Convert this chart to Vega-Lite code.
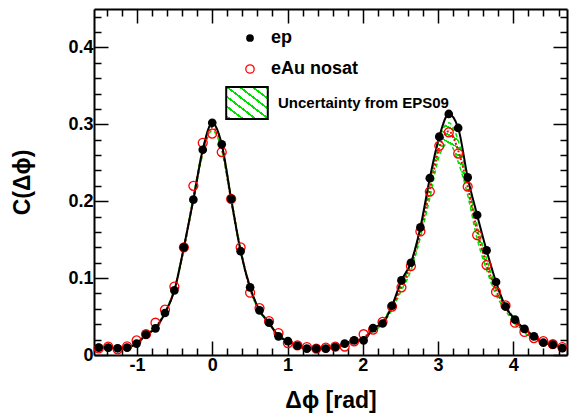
{
"$schema": "https://vega.github.io/schema/vega-lite/v6.json",
"width": 473, "height": 346,
"autosize": "none",
"padding": {"left": 94, "top": 9, "right": 2, "bottom": 59},
"background": "white",
"config": {
  "view": {"stroke": null},
  "font": "Liberation Sans",
  "axis": {"domainColor": "black", "domainWidth": 2, "tickColor": "black", "tickWidth": 1.5, "labelColor": "black", "titleColor": "black", "labelFont": "Liberation Sans", "titleFont": "Liberation Sans", "labelFontWeight": "bold", "titleFontWeight": "bold", "labelFontSize": 18, "titleFontSize": 23, "grid": false, "labelOverlap": false, "labelFlush": false},
  "legend": {"labelFont": "Liberation Sans", "labelFontWeight": "bold", "labelColor": "black", "labelLimit": 400, "padding": 0, "orient": "none", "title": null}
},
"data": {"values": [
{"x": -1.508, "ep": 0.0096, "eau": 0.0085, "rfit": 0.0096, "lo": 0.0094, "hi": 0.0098},
{"x": -1.382, "ep": 0.0096, "eau": 0.011, "rfit": 0.0094, "lo": 0.0092, "hi": 0.0096},
{"x": -1.257, "ep": 0.0087, "eau": 0.0074, "rfit": 0.0090, "lo": 0.0088, "hi": 0.0092},
{"x": -1.131, "ep": 0.0096, "eau": 0.0113, "rfit": 0.0100, "lo": 0.0098, "hi": 0.0102},
{"x": -1.005, "ep": 0.0148, "eau": 0.019, "rfit": 0.0150, "lo": 0.0147, "hi": 0.0153},
{"x": -0.880, "ep": 0.0265, "eau": 0.027, "rfit": 0.0255, "lo": 0.025, "hi": 0.026},
{"x": -0.754, "ep": 0.0347, "eau": 0.042, "rfit": 0.0360, "lo": 0.0354, "hi": 0.0366},
{"x": -0.628, "ep": 0.0546, "eau": 0.059, "rfit": 0.0550, "lo": 0.054, "hi": 0.056},
{"x": -0.503, "ep": 0.084, "eau": 0.089, "rfit": 0.085, "lo": 0.0835, "hi": 0.0865},
{"x": -0.377, "ep": 0.140, "eau": 0.140, "rfit": 0.139, "lo": 0.137, "hi": 0.141},
{"x": -0.251, "ep": 0.202, "eau": 0.220, "rfit": 0.203, "lo": 0.200, "hi": 0.206},
{"x": -0.126, "ep": 0.267, "eau": 0.276, "rfit": 0.265, "lo": 0.261, "hi": 0.269},
{"x": 0.000, "ep": 0.302, "eau": 0.288, "rfit": 0.296, "lo": 0.292, "hi": 0.300},
{"x": 0.126, "ep": 0.274, "eau": 0.264, "rfit": 0.270, "lo": 0.266, "hi": 0.274},
{"x": 0.251, "ep": 0.203, "eau": 0.203, "rfit": 0.202, "lo": 0.199, "hi": 0.205},
{"x": 0.377, "ep": 0.135, "eau": 0.140, "rfit": 0.136, "lo": 0.134, "hi": 0.138},
{"x": 0.503, "ep": 0.088, "eau": 0.081, "rfit": 0.086, "lo": 0.0847, "hi": 0.0873},
{"x": 0.628, "ep": 0.058, "eau": 0.061, "rfit": 0.058, "lo": 0.057, "hi": 0.059},
{"x": 0.754, "ep": 0.042, "eau": 0.044, "rfit": 0.041, "lo": 0.0404, "hi": 0.0416},
{"x": 0.880, "ep": 0.0243, "eau": 0.0286, "rfit": 0.026, "lo": 0.0256, "hi": 0.0264},
{"x": 1.005, "ep": 0.018, "eau": 0.0156, "rfit": 0.0175, "lo": 0.0172, "hi": 0.0178},
{"x": 1.131, "ep": 0.012, "eau": 0.0125, "rfit": 0.0125, "lo": 0.0123, "hi": 0.0127},
{"x": 1.257, "ep": 0.0083, "eau": 0.0104, "rfit": 0.0095, "lo": 0.0093, "hi": 0.0097},
{"x": 1.382, "ep": 0.0083, "eau": 0.0083, "rfit": 0.0085, "lo": 0.0083, "hi": 0.0087},
{"x": 1.508, "ep": 0.0083, "eau": 0.0096, "rfit": 0.0088, "lo": 0.0086, "hi": 0.009},
{"x": 1.634, "ep": 0.0104, "eau": 0.011, "rfit": 0.0105, "lo": 0.0103, "hi": 0.0107},
{"x": 1.759, "ep": 0.0148, "eau": 0.011, "rfit": 0.013, "lo": 0.0128, "hi": 0.0132},
{"x": 1.885, "ep": 0.019, "eau": 0.0178, "rfit": 0.0175, "lo": 0.0172, "hi": 0.0178},
{"x": 2.011, "ep": 0.019, "eau": 0.027, "rfit": 0.023, "lo": 0.0226, "hi": 0.0234},
{"x": 2.136, "ep": 0.035, "eau": 0.033, "rfit": 0.032, "lo": 0.031, "hi": 0.033},
{"x": 2.262, "ep": 0.041, "eau": 0.043, "rfit": 0.042, "lo": 0.040, "hi": 0.044},
{"x": 2.388, "ep": 0.064, "eau": 0.063, "rfit": 0.062, "lo": 0.059, "hi": 0.065},
{"x": 2.513, "ep": 0.097, "eau": 0.088, "rfit": 0.089, "lo": 0.084, "hi": 0.093},
{"x": 2.639, "ep": 0.120, "eau": 0.1156, "rfit": 0.117, "lo": 0.110, "hi": 0.120},
{"x": 2.765, "ep": 0.166, "eau": 0.1607, "rfit": 0.160, "lo": 0.153, "hi": 0.166},
{"x": 2.890, "ep": 0.230, "eau": 0.2126, "rfit": 0.215, "lo": 0.204, "hi": 0.224},
{"x": 3.016, "ep": 0.284, "eau": 0.272, "rfit": 0.270, "lo": 0.259, "hi": 0.281},
{"x": 3.142, "ep": 0.3135, "eau": 0.2896, "rfit": 0.291, "lo": 0.276, "hi": 0.302},
{"x": 3.267, "ep": 0.2953, "eau": 0.262, "rfit": 0.266, "lo": 0.251, "hi": 0.279},
{"x": 3.393, "ep": 0.231, "eau": 0.219, "rfit": 0.219, "lo": 0.208, "hi": 0.228},
{"x": 3.519, "ep": 0.182, "eau": 0.156, "rfit": 0.161, "lo": 0.151, "hi": 0.169},
{"x": 3.644, "ep": 0.136, "eau": 0.117, "rfit": 0.118, "lo": 0.111, "hi": 0.125},
{"x": 3.770, "ep": 0.095, "eau": 0.082, "rfit": 0.084, "lo": 0.078, "hi": 0.089},
{"x": 3.896, "ep": 0.063, "eau": 0.0645, "rfit": 0.062, "lo": 0.058, "hi": 0.066},
{"x": 4.021, "ep": 0.046, "eau": 0.042, "rfit": 0.043, "lo": 0.040, "hi": 0.046},
{"x": 4.147, "ep": 0.034, "eau": 0.030, "rfit": 0.031, "lo": 0.029, "hi": 0.033},
{"x": 4.273, "ep": 0.0243, "eau": 0.022, "rfit": 0.022, "lo": 0.021, "hi": 0.024},
{"x": 4.398, "ep": 0.016, "eau": 0.018, "rfit": 0.017, "lo": 0.0166, "hi": 0.0174},
{"x": 4.524, "ep": 0.0135, "eau": 0.014, "rfit": 0.0135, "lo": 0.0132, "hi": 0.0138},
{"x": 4.650, "ep": 0.009, "eau": 0.0104, "rfit": 0.0095, "lo": 0.0093, "hi": 0.0097}
]},
"encoding": {
  "x": {"field": "x", "type": "quantitative", "scale": {"domain": [-1.5708, 4.7124], "nice": false, "zero": false}, "axis": null}
},
"layer": [
{
  "transform": [{"filter": "datum.x > 2.2 && datum.x < 4.35"}],
  "mark": {"type": "area", "interpolate": "monotone", "fill": {"gradient": "linear", "x1": 0, "y1": 1, "x2": 0.466, "y2": -0.206, "stops": [
{"offset":0,"color":"#00e000"},{"offset":0.0065,"color":"#00e000"},{"offset":0.0065,"color":"rgba(0,0,0,0)"},{"offset":0.025,"color":"rgba(0,0,0,0)"},
{"offset":0.025,"color":"#00e000"},{"offset":0.0315,"color":"#00e000"},{"offset":0.0315,"color":"rgba(0,0,0,0)"},{"offset":0.05,"color":"rgba(0,0,0,0)"},
{"offset":0.05,"color":"#00e000"},{"offset":0.0565,"color":"#00e000"},{"offset":0.0565,"color":"rgba(0,0,0,0)"},{"offset":0.075,"color":"rgba(0,0,0,0)"},
{"offset":0.075,"color":"#00e000"},{"offset":0.0815,"color":"#00e000"},{"offset":0.0815,"color":"rgba(0,0,0,0)"},{"offset":0.1,"color":"rgba(0,0,0,0)"},
{"offset":0.1,"color":"#00e000"},{"offset":0.1065,"color":"#00e000"},{"offset":0.1065,"color":"rgba(0,0,0,0)"},{"offset":0.125,"color":"rgba(0,0,0,0)"},
{"offset":0.125,"color":"#00e000"},{"offset":0.1315,"color":"#00e000"},{"offset":0.1315,"color":"rgba(0,0,0,0)"},{"offset":0.15,"color":"rgba(0,0,0,0)"},
{"offset":0.15,"color":"#00e000"},{"offset":0.1565,"color":"#00e000"},{"offset":0.1565,"color":"rgba(0,0,0,0)"},{"offset":0.175,"color":"rgba(0,0,0,0)"},
{"offset":0.175,"color":"#00e000"},{"offset":0.1815,"color":"#00e000"},{"offset":0.1815,"color":"rgba(0,0,0,0)"},{"offset":0.2,"color":"rgba(0,0,0,0)"},
{"offset":0.2,"color":"#00e000"},{"offset":0.2065,"color":"#00e000"},{"offset":0.2065,"color":"rgba(0,0,0,0)"},{"offset":0.225,"color":"rgba(0,0,0,0)"},
{"offset":0.225,"color":"#00e000"},{"offset":0.2315,"color":"#00e000"},{"offset":0.2315,"color":"rgba(0,0,0,0)"},{"offset":0.25,"color":"rgba(0,0,0,0)"},
{"offset":0.25,"color":"#00e000"},{"offset":0.2565,"color":"#00e000"},{"offset":0.2565,"color":"rgba(0,0,0,0)"},{"offset":0.275,"color":"rgba(0,0,0,0)"},
{"offset":0.275,"color":"#00e000"},{"offset":0.2815,"color":"#00e000"},{"offset":0.2815,"color":"rgba(0,0,0,0)"},{"offset":0.3,"color":"rgba(0,0,0,0)"},
{"offset":0.3,"color":"#00e000"},{"offset":0.3065,"color":"#00e000"},{"offset":0.3065,"color":"rgba(0,0,0,0)"},{"offset":0.325,"color":"rgba(0,0,0,0)"},
{"offset":0.325,"color":"#00e000"},{"offset":0.3315,"color":"#00e000"},{"offset":0.3315,"color":"rgba(0,0,0,0)"},{"offset":0.35,"color":"rgba(0,0,0,0)"},
{"offset":0.35,"color":"#00e000"},{"offset":0.3565,"color":"#00e000"},{"offset":0.3565,"color":"rgba(0,0,0,0)"},{"offset":0.375,"color":"rgba(0,0,0,0)"},
{"offset":0.375,"color":"#00e000"},{"offset":0.3815,"color":"#00e000"},{"offset":0.3815,"color":"rgba(0,0,0,0)"},{"offset":0.4,"color":"rgba(0,0,0,0)"},
{"offset":0.4,"color":"#00e000"},{"offset":0.4065,"color":"#00e000"},{"offset":0.4065,"color":"rgba(0,0,0,0)"},{"offset":0.425,"color":"rgba(0,0,0,0)"},
{"offset":0.425,"color":"#00e000"},{"offset":0.4315,"color":"#00e000"},{"offset":0.4315,"color":"rgba(0,0,0,0)"},{"offset":0.45,"color":"rgba(0,0,0,0)"},
{"offset":0.45,"color":"#00e000"},{"offset":0.4565,"color":"#00e000"},{"offset":0.4565,"color":"rgba(0,0,0,0)"},{"offset":0.475,"color":"rgba(0,0,0,0)"},
{"offset":0.475,"color":"#00e000"},{"offset":0.4815,"color":"#00e000"},{"offset":0.4815,"color":"rgba(0,0,0,0)"},{"offset":0.5,"color":"rgba(0,0,0,0)"},
{"offset":0.5,"color":"#00e000"},{"offset":0.5065,"color":"#00e000"},{"offset":0.5065,"color":"rgba(0,0,0,0)"},{"offset":0.525,"color":"rgba(0,0,0,0)"},
{"offset":0.525,"color":"#00e000"},{"offset":0.5315,"color":"#00e000"},{"offset":0.5315,"color":"rgba(0,0,0,0)"},{"offset":0.55,"color":"rgba(0,0,0,0)"},
{"offset":0.55,"color":"#00e000"},{"offset":0.5565,"color":"#00e000"},{"offset":0.5565,"color":"rgba(0,0,0,0)"},{"offset":0.575,"color":"rgba(0,0,0,0)"},
{"offset":0.575,"color":"#00e000"},{"offset":0.5815,"color":"#00e000"},{"offset":0.5815,"color":"rgba(0,0,0,0)"},{"offset":0.6,"color":"rgba(0,0,0,0)"},
{"offset":0.6,"color":"#00e000"},{"offset":0.6065,"color":"#00e000"},{"offset":0.6065,"color":"rgba(0,0,0,0)"},{"offset":0.625,"color":"rgba(0,0,0,0)"},
{"offset":0.625,"color":"#00e000"},{"offset":0.6315,"color":"#00e000"},{"offset":0.6315,"color":"rgba(0,0,0,0)"},{"offset":0.65,"color":"rgba(0,0,0,0)"},
{"offset":0.65,"color":"#00e000"},{"offset":0.6565,"color":"#00e000"},{"offset":0.6565,"color":"rgba(0,0,0,0)"},{"offset":0.675,"color":"rgba(0,0,0,0)"},
{"offset":0.675,"color":"#00e000"},{"offset":0.6815,"color":"#00e000"},{"offset":0.6815,"color":"rgba(0,0,0,0)"},{"offset":0.7,"color":"rgba(0,0,0,0)"},
{"offset":0.7,"color":"#00e000"},{"offset":0.7065,"color":"#00e000"},{"offset":0.7065,"color":"rgba(0,0,0,0)"},{"offset":0.725,"color":"rgba(0,0,0,0)"},
{"offset":0.725,"color":"#00e000"},{"offset":0.7315,"color":"#00e000"},{"offset":0.7315,"color":"rgba(0,0,0,0)"},{"offset":0.75,"color":"rgba(0,0,0,0)"},
{"offset":0.75,"color":"#00e000"},{"offset":0.7565,"color":"#00e000"},{"offset":0.7565,"color":"rgba(0,0,0,0)"},{"offset":0.775,"color":"rgba(0,0,0,0)"},
{"offset":0.775,"color":"#00e000"},{"offset":0.7815,"color":"#00e000"},{"offset":0.7815,"color":"rgba(0,0,0,0)"},{"offset":0.8,"color":"rgba(0,0,0,0)"},
{"offset":0.8,"color":"#00e000"},{"offset":0.8065,"color":"#00e000"},{"offset":0.8065,"color":"rgba(0,0,0,0)"},{"offset":0.825,"color":"rgba(0,0,0,0)"},
{"offset":0.825,"color":"#00e000"},{"offset":0.8315,"color":"#00e000"},{"offset":0.8315,"color":"rgba(0,0,0,0)"},{"offset":0.85,"color":"rgba(0,0,0,0)"},
{"offset":0.85,"color":"#00e000"},{"offset":0.8565,"color":"#00e000"},{"offset":0.8565,"color":"rgba(0,0,0,0)"},{"offset":0.875,"color":"rgba(0,0,0,0)"},
{"offset":0.875,"color":"#00e000"},{"offset":0.8815,"color":"#00e000"},{"offset":0.8815,"color":"rgba(0,0,0,0)"},{"offset":0.9,"color":"rgba(0,0,0,0)"},
{"offset":0.9,"color":"#00e000"},{"offset":0.9065,"color":"#00e000"},{"offset":0.9065,"color":"rgba(0,0,0,0)"},{"offset":0.925,"color":"rgba(0,0,0,0)"},
{"offset":0.925,"color":"#00e000"},{"offset":0.9315,"color":"#00e000"},{"offset":0.9315,"color":"rgba(0,0,0,0)"},{"offset":0.95,"color":"rgba(0,0,0,0)"},
{"offset":0.95,"color":"#00e000"},{"offset":0.9565,"color":"#00e000"},{"offset":0.9565,"color":"rgba(0,0,0,0)"},{"offset":0.975,"color":"rgba(0,0,0,0)"},
{"offset":0.975,"color":"#00e000"},{"offset":0.9815,"color":"#00e000"},{"offset":0.9815,"color":"rgba(0,0,0,0)"},{"offset":1,"color":"rgba(0,0,0,0)"}
]}},
  "encoding": {
    "x": {"field": "x", "type": "quantitative", "scale": {"domain": [-1.5708, 4.7124], "nice": false, "zero": false},
      "axis": {"orient": "bottom", "values": [-1.4,-1.2,-1,-0.8,-0.6,-0.4,-0.2,0,0.2,0.4,0.6,0.8,1,1.2,1.4,1.6,1.8,2,2.2,2.4,2.6,2.8,3,3.2,3.4,3.6,3.8,4,4.2,4.4,4.6],
        "title": "Δϕ [rad]", "titlePadding": 8, "labelPadding": 15,
        "labelExpr": "abs(datum.value - round(datum.value)) < 0.001 ? '' + round(datum.value) : ''",
        "tickSize": {"condition": {"test": "abs(datum.value - round(datum.value)) < 0.001", "value": -14}, "value": -7}}},
    "y": {"field": "lo", "type": "quantitative", "scale": {"domain": [0, 0.45], "nice": false, "zero": false},
      "axis": {"orient": "left", "values": [0,0.02,0.04,0.06,0.08,0.1,0.12,0.14,0.16,0.18,0.2,0.22,0.24,0.26,0.28,0.3,0.32,0.34,0.36,0.38,0.4,0.42,0.44],
        "title": "C(Δϕ)", "titlePadding": 33, "labelPadding": 15,
        "labelExpr": "abs(datum.value*10 - round(datum.value*10)) < 0.001 ? (datum.value < 0.001 ? '0' : format(datum.value, '.1f')) : ''",
        "tickSize": {"condition": {"test": "abs(datum.value*10 - round(datum.value*10)) < 0.001", "value": -14}, "value": -7}}},
    "y2": {"field": "hi"}
  }
},
{
  "mark": {"type": "line", "interpolate": "monotone", "color": "#00dd00", "strokeWidth": 1.5, "strokeDash": [4, 3]},
  "encoding": {
    "x": {"field": "x", "type": "quantitative", "scale": {"domain": [-1.5708, 4.7124], "nice": false, "zero": false},
      "axis": {"orient": "top", "values": [-1.4,-1.2,-1,-0.8,-0.6,-0.4,-0.2,0,0.2,0.4,0.6,0.8,1,1.2,1.4,1.6,1.8,2,2.2,2.4,2.6,2.8,3,3.2,3.4,3.6,3.8,4,4.2,4.4,4.6],
        "title": null, "labels": false,
        "tickSize": {"condition": {"test": "abs(datum.value - round(datum.value)) < 0.001", "value": -14}, "value": -7}}},
    "y": {"field": "lo", "type": "quantitative", "scale": {"domain": [0, 0.45], "nice": false, "zero": false},
      "axis": {"orient": "right", "values": [0,0.02,0.04,0.06,0.08,0.1,0.12,0.14,0.16,0.18,0.2,0.22,0.24,0.26,0.28,0.3,0.32,0.34,0.36,0.38,0.4,0.42,0.44],
        "title": null, "labels": false,
        "tickSize": {"condition": {"test": "abs(datum.value*10 - round(datum.value*10)) < 0.001", "value": -14}, "value": -7}}}
  }
},
{
  "mark": {"type": "line", "interpolate": "monotone", "color": "#00dd00", "strokeWidth": 1.5, "strokeDash": [4, 3]},
  "encoding": {"y": {"field": "hi", "type": "quantitative", "scale": {"domain": [0, 0.45], "nice": false, "zero": false}, "axis": null}}
},
{
  "mark": {"type": "line", "interpolate": "monotone", "color": "red", "strokeWidth": 2, "strokeDash": [2, 2]},
  "encoding": {"y": {"field": "rfit", "type": "quantitative", "scale": {"domain": [0, 0.45], "nice": false, "zero": false}, "axis": null}}
},
{
  "mark": {"type": "line", "interpolate": "monotone", "color": "black", "strokeWidth": 2},
  "encoding": {
    "y": {"field": "ep", "type": "quantitative", "scale": {"domain": [0, 0.45], "nice": false, "zero": false}, "axis": null},
    "opacity": {"datum": "Uncertainty from EPS09", "type": "ordinal", "scale": {"domain": ["Uncertainty from EPS09"], "range": [1]},
      "legend": {"legendX": 136, "legendY": 77, "symbolType": "M-1.3,-1H1.3V1H-1.3Z", "symbolSize": 1024, "symbolStrokeWidth": 2, "symbolStrokeColor": "black",
        "symbolFillColor": {"value": {"gradient": "linear", "x1": 0, "y1": 1, "x2": 1, "y2": 0, "stops": [
                {"offset":0,"color":"#ffffff"},{"offset":0.03,"color":"#ffffff"},{"offset":0.03,"color":"#00e000"},{"offset":0.066,"color":"#00e000"},{"offset":0.066,"color":"#ffffff"},
                {"offset":0.184,"color":"#ffffff"},{"offset":0.184,"color":"#00e000"},{"offset":0.22,"color":"#00e000"},{"offset":0.22,"color":"#ffffff"},
                {"offset":0.338,"color":"#ffffff"},{"offset":0.338,"color":"#00e000"},{"offset":0.374,"color":"#00e000"},{"offset":0.374,"color":"#ffffff"},
                {"offset":0.492,"color":"#ffffff"},{"offset":0.492,"color":"#00e000"},{"offset":0.528,"color":"#00e000"},{"offset":0.528,"color":"#ffffff"},
                {"offset":0.646,"color":"#ffffff"},{"offset":0.646,"color":"#00e000"},{"offset":0.682,"color":"#00e000"},{"offset":0.682,"color":"#ffffff"},
                {"offset":0.8,"color":"#ffffff"},{"offset":0.8,"color":"#00e000"},{"offset":0.836,"color":"#00e000"},{"offset":0.836,"color":"#ffffff"},
                {"offset":0.954,"color":"#ffffff"},{"offset":0.954,"color":"#00e000"},{"offset":0.99,"color":"#00e000"},{"offset":0.99,"color":"#ffffff"},
                {"offset":1,"color":"#ffffff"}]}},
        "labelFontSize": 15, "labelOffset": 14}}
  }
},
{
  "mark": {"type": "point", "shape": "circle", "filled": false, "size": 80, "strokeWidth": 1.3, "opacity": 1},
  "encoding": {
    "y": {"field": "eau", "type": "quantitative", "scale": {"domain": [0, 0.45], "nice": false, "zero": false}, "axis": null},
    "stroke": {"datum": "eAu nosat", "type": "nominal", "scale": {"domain": ["eAu nosat"], "range": ["red"]},
      "legend": {"legendX": 147, "legendY": 51, "symbolType": "circle", "symbolSize": 70, "symbolStrokeWidth": 1.3, "labelFontSize": 18, "labelOffset": 12}}
  }
},
{
  "mark": {"type": "point", "shape": "circle", "filled": true, "size": 75, "opacity": 1},
  "encoding": {
    "y": {"field": "ep", "type": "quantitative", "scale": {"domain": [0, 0.45], "nice": false, "zero": false}, "axis": null},
    "fill": {"datum": "ep", "type": "nominal", "scale": {"domain": ["ep"], "range": ["black"]},
      "legend": {"legendX": 147, "legendY": 20, "symbolType": "circle", "symbolSize": 60, "symbolStrokeWidth": 0, "labelFontSize": 18, "labelOffset": 12}}
  }
}
],
"resolve": {"axis": {"x": "independent", "y": "independent"}}
}
